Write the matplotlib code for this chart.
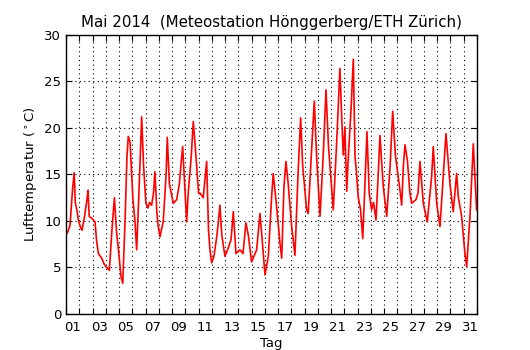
import numpy as np
import matplotlib
matplotlib.use("Agg")
import matplotlib.pyplot as plt

# time in days of May (1.0 = May 1st 00:00), temperature in deg C
tag = [1.00, 1.10, 1.30, 1.50, 1.62, 1.70, 1.85, 1.93, 2.10, 2.21, 2.40, 2.60, 2.66, 2.75,
       2.94, 3.19, 3.30, 3.44, 3.69, 3.90, 4.07, 4.27, 4.45, 4.65, 4.82, 4.94, 5.15, 5.28,
       5.45, 5.60, 5.70, 5.83, 6.05, 6.20, 6.33, 6.50, 6.71, 6.85, 7.03, 7.18, 7.30, 7.46,
       7.60, 7.71, 7.85, 7.96, 8.09, 8.34, 8.55, 8.64, 8.80, 9.09, 9.35, 9.55, 9.70, 9.80,
       9.95, 10.10, 10.22, 10.45, 10.60, 10.75, 10.86, 11.00, 11.11, 11.35, 11.61, 11.75,
       11.86, 11.99, 12.16, 12.37, 12.50, 12.61, 12.75, 12.99, 13.24, 13.45, 13.62, 13.82,
       14.12, 14.35, 14.57, 14.75, 15.00, 15.38, 15.63, 15.78, 16.01, 16.26, 16.51, 16.63,
       16.89, 17.14, 17.27, 17.44, 17.59, 17.76, 18.02, 18.27, 18.50, 18.70, 18.85, 19.15,
       19.27, 19.50, 19.73, 19.90, 20.16, 20.40, 20.61, 20.80, 21.16, 21.40, 21.66, 21.80,
       21.91, 22.04, 22.17, 22.30, 22.50, 22.67, 22.80, 22.92, 23.04, 23.22, 23.38, 23.55,
       23.70, 23.87, 24.05, 24.20, 24.38, 24.55, 24.68, 24.93, 25.19, 25.45, 25.64, 25.85,
       26.19, 26.32, 26.45, 26.57, 26.75, 26.94, 27.07, 27.40, 27.55, 27.70, 27.95, 28.25,
       28.58, 28.70, 28.96, 29.21, 29.45, 29.66, 29.96, 30.21, 30.46, 30.59, 30.84, 31.09,
       31.22, 31.47, 31.72, 31.97]
temp = [8.9, 8.7, 9.5, 13.5, 15.2, 12.0, 11.0, 10.1, 9.3, 9.0, 10.5, 12.5, 13.3, 10.5,
        10.3, 9.9, 8.0, 6.5, 6.0, 5.3, 5.0, 4.7, 8.7, 12.5, 8.7, 7.2, 4.0, 3.3,
        9.8, 17.0, 19.1, 18.5, 12.3, 10.0, 6.9, 13.0, 21.2, 16.0, 11.9, 11.4, 12.0, 11.7,
        13.0, 15.3, 11.0, 9.4, 8.3, 10.0, 15.0, 19.0, 14.0, 11.9, 12.3, 14.0, 16.5, 18.0,
        14.0, 9.9, 13.0, 17.0, 20.7, 18.0, 15.8, 13.0, 13.0, 12.5, 16.4, 9.0,
        6.9, 5.5, 6.2, 8.3, 10.0, 11.7, 8.5, 6.2, 7.1, 8.0, 11.0, 6.5,
        6.9, 6.5, 9.8, 8.5, 5.6, 6.9, 10.8, 8.3, 4.2, 6.2, 12.6, 15.1,
        11.5, 7.6, 6.0, 13.7, 16.4, 14.0, 9.4, 6.3, 15.0, 21.1, 16.0, 11.2,
        10.8, 17.0, 22.9, 17.0, 10.5, 17.0, 24.1, 18.0, 11.2, 18.0, 26.4, 21.0,
        17.1, 20.1, 13.2, 17.0, 22.0, 27.4, 17.0, 15.0, 12.6, 11.2, 8.1, 14.0,
        19.6, 13.0, 11.2, 12.0, 10.1, 15.0, 19.2, 13.7, 10.5, 16.0, 21.8, 17.0,
        13.3, 11.7, 16.0, 18.2, 16.5, 13.0, 11.9, 12.3, 13.0, 16.4, 11.9, 9.9,
        14.8, 18.0, 11.9, 9.4, 14.8, 19.4, 14.0, 11.0, 15.1, 12.6, 10.5, 6.5,
        5.1, 10.5, 18.3, 11.2]

label_tage = ["%02d" % d for d in range(1, 32, 2)]

fig = plt.figure(figsize=(5.3, 3.5), dpi=100)
ax = fig.add_axes([0.1245, 0.1029, 0.7755, 0.7971])
ax.plot(tag, temp, color="red", lw=1.2)

ax.set_xlim(1, 32)
ax.set_ylim(0, 30)
ax.set_xticks(np.arange(1, 33))
ax.set_xticklabels([])
ax.set_xticks(np.arange(1.5, 32, 2), minor=True)
ax.set_xticklabels(label_tage, minor=True)
ax.set_yticks(np.arange(0, 31, 5))
ax.tick_params(which="major", direction="in", length=4, top=True, right=True, labelsize=9.5)
ax.tick_params(which="minor", length=0, labelsize=9.5, pad=5)
ax.grid(True, which="major", color="k", ls=(0, (1, 3)), lw=0.8)
for s in ax.spines.values():
    s.set_linewidth(1.0)

ax.set_xlabel("Tag", fontsize=9.5, labelpad=2)
ax.set_ylabel(r"Lufttemperatur ($^\circ$C)", fontsize=9.5)
ax.set_title("Mai 2014  (Meteostation Hönggerberg/ETH Zürich)", fontsize=10.8)

fig.savefig("out.png", dpi=100)
